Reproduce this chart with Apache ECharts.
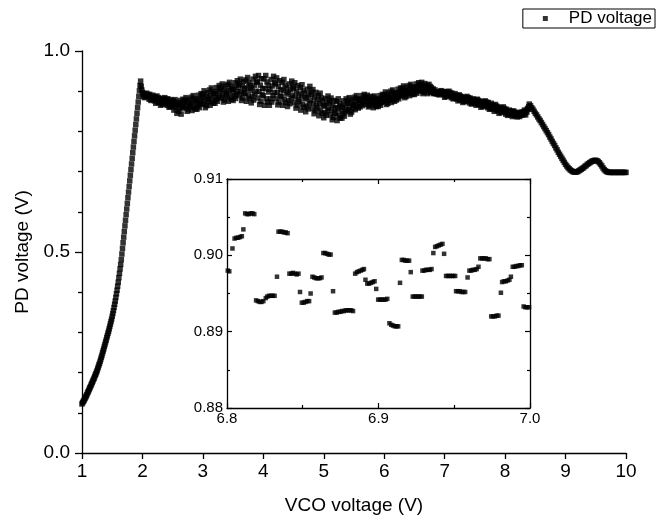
<!DOCTYPE html>
<html>
<head>
<meta charset="utf-8">
<script src="https://cdn.jsdelivr.net/npm/echarts@6/dist/echarts.min.js"></script>
<style>
html,body{margin:0;padding:0;background:#fff;}
#chart{width:657px;height:525px;}
</style>
</head>
<body>
<div id="chart"></div>
<script>
// ---- Data ----
// Main curve: three sampled segments (start x, x step, y values)
const riseX0 = 1.00, riseStep = 0.01;
const riseY = [
.122,.125,.128,.130,.133,.136,.139,.142,.145,.149,
.152,.155,.159,.162,.165,.169,.172,.176,.179,.183,
.186,.190,.194,.197,.201,.205,.210,.214,.219,.223,
.228,.233,.238,.243,.249,.254,.259,.265,.270,.276,
.281,.287,.292,.298,.303,.309,.315,.321,.327,.333,
.340,.347,.354,.362,.370,.378,.387,.396,.405,.415,
.425,.436,.447,.458,.469,.481,.495,.509,.523,.537,
.551,.565,.579,.593,.607,.621,.635,.649,.663,.677,
.691,.705,.719,.733,.747,.761,.775,.789,.803,.817,
.831,.845,.859,.873,.887,.901,.914,.925,.912,.903
];
const bandX0 = 2.00, bandStep = 0.01;
const bandY = [
.897,.892,.886,.894,.884,.891,.887,.895,.888,.892,
.889,.880,.892,.884,.877,.887,.879,.890,.882,.885,
.876,.886,.870,.880,.888,.874,.884,.872,.882,.878,
.865,.876,.869,.882,.867,.878,.871,.884,.873,.880,
.876,.865,.881,.869,.860,.874,.862,.879,.867,.872,
.862,.876,.853,.868,.879,.859,.873,.845,.870,.864,
.850,.867,.857,.877,.843,.870,.860,.880,.863,.873,
.877,.858,.884,.865,.850,.873,.854,.880,.861,.869,
.864,.885,.852,.873,.889,.860,.881,.856,.877,.868,
.855,.877,.864,.890,.859,.881,.868,.894,.872,.885,
.892,.868,.901,.878,.859,.887,.864,.896,.873,.883,
.879,.903,.865,.889,.908,.875,.899,.870,.894,.884,
.870,.895,.880,.909,.875,.900,.885,.914,.889,.904,
.908,.883,.918,.893,.873,.903,.878,.913,.888,.898,
.891,.917,.875,.901,.922,.885,.912,.880,.907,.896,
.877,.904,.888,.921,.882,.910,.893,.926,.899,.915,
.918,.889,.930,.900,.877,.913,.883,.924,.895,.907,
.895,.928,.875,.908,.934,.888,.921,.882,.915,.901,
.871,.908,.886,.930,.878,.915,.893,.937,.900,.923,
.923,.883,.939,.899,.867,.915,.875,.931,.891,.907,
.889,.931,.865,.906,.939,.881,.923,.873,.915,.898,
.865,.905,.881,.929,.873,.913,.889,.937,.897,.921,
.918,.881,.933,.896,.866,.911,.873,.926,.888,.904,
.886,.922,.865,.901,.929,.879,.915,.872,.908,.893,
.862,.897,.876,.918,.869,.904,.883,.925,.890,.911,
.907,.872,.921,.886,.858,.900,.865,.914,.879,.893,
.874,.909,.853,.888,.916,.867,.902,.860,.895,.881,
.849,.884,.863,.905,.856,.891,.870,.912,.877,.898,
.891,.857,.904,.870,.844,.884,.851,.897,.864,.878,
.858,.889,.839,.870,.895,.851,.883,.845,.877,.864,
.834,.864,.846,.882,.840,.870,.852,.888,.858,.876,
.871,.841,.883,.853,.829,.865,.835,.877,.847,.859,
.845,.875,.827,.857,.881,.839,.869,.833,.863,.851,
.833,.860,.844,.876,.838,.865,.849,.881,.854,.870,
.875,.852,.884,.861,.843,.871,.848,.880,.857,.866,
.866,.885,.854,.874,.889,.862,.881,.858,.878,.869,
.861,.878,.868,.889,.864,.882,.871,.892,.875,.885,
.884,.867,.890,.874,.861,.880,.864,.887,.871,.877,
.869,.885,.859,.875,.888,.865,.882,.862,.878,.872,
.862,.879,.869,.889,.865,.882,.872,.892,.875,.885,
.891,.874,.898,.881,.867,.888,.870,.895,.877,.884,
.882,.900,.872,.889,.903,.879,.896,.875,.893,.886,
.878,.895,.885,.905,.881,.898,.888,.908,.891,.901,
.907,.890,.913,.897,.884,.903,.887,.910,.894,.900,
.898,.914,.889,.905,.917,.895,.911,.892,.908,.901,
.892,.908,.898,.918,.895,.911,.902,.921,.905,.915,
.916,.900,.922,.906,.894,.913,.897,.919,.903,.910,
.902,.915,.894,.907,.917,.899,.912,.897,.909,.904,
.898,.9055,.8941,.8948,.9031,.8939,.8971,.8953,.8927,.898,
.8942,.8908,.8993,.8946,.9013,.8973,.8981,.8996,.892,.8986,
.885,.893,.888,.898,.887,.895,.890,.900,.892,.897,
.892,.884,.895,.887,.881,.890,.883,.894,.886,.889,
.881,.889,.876,.884,.891,.879,.888,.878,.886,.883,
.872,.880,.875,.885,.874,.882,.877,.887,.879,.884,
.880,.871,.883,.875,.868,.878,.870,.881,.873,.876,
.870,.878,.865,.873,.880,.868,.877,.867,.875,.872,
.860,.869,.864,.874,.862,.871,.865,.876,.867,.873,
.868,.859,.872,.863,.855,.866,.857,.870,.861,.865,
.856,.865,.850,.860,.867,.854,.863,.852,.861,.858,
.845,.854,.849,.859,.847,.856,.850,.861,.852,.857,
.852,.843,.855,.847,.840,.850,.842,.853,.845,.848,
.842,.850,.837,.845,.851,.840,.848,.839,.846,.843,
.836,.843,.839,.847,.837,.844,.840,.848,.841,.845,
.849,.842,.853,.846,.841,.852,.848,.857,.855,.862
];
const tailX0 = 8.40, tailStep = 0.02;
const tailY = [
.868,
.864,.859,.855,.850,.845,.841,.836,.831,.827,.822,
.817,.812,.807,.802,.797,.792,.786,.781,.775,.770,
.765,.759,.754,.748,.743,.738,.733,.728,.723,.718,
.714,.710,.707,.704,.702,.700,.699,.699,.699,.700,
.702,.704,.706,.708,.710,.713,.715,.718,.720,.722,
.724,.726,.727,.728,.728,.727,.725,.722,.718,.714,
.709,.705,.702,.700,.699,.698,.698,.698,.698,.698,
.698,.698,.698,.698,.698,.698,.698,.698,.698,.698
];

// Inset (zoom of 6.8 - 7.0 V)
const insetX = [
6.8005,6.8015,6.8036,
6.8050,6.8062,6.8074,6.8086,6.8098,6.8108,
6.8120,6.8132,6.8144,6.8156,6.8168,6.8180,
6.8192,6.8204,6.8216,6.8228,6.8240,
6.8256,6.8266,6.8278,6.8290,6.8302,6.8314,6.8330,
6.8340,6.8352,6.8364,6.8376,6.8388,6.8400,
6.8412,6.8424,6.8436,6.8448,6.8460,6.8472,6.8482,
6.8494,6.8506,6.8518,6.8530,6.8542,6.8552,
6.8564,6.8576,6.8588,6.8600,6.8612,6.8624,
6.8636,6.8648,6.8660,6.8672,6.8684,6.8700,
6.8712,6.8724,6.8736,6.8748,6.8760,6.8772,
6.8784,6.8796,6.8808,6.8820,6.8832,
6.8846,6.8858,6.8870,6.8882,6.8894,6.8904,6.8914,
6.8926,6.8938,6.8950,6.8962,6.8974,6.8985,
6.8998,6.9010,6.9022,6.9034,6.9046,6.9058,
6.9072,6.9084,6.9096,6.9108,6.9120,6.9130,6.9142,
6.9154,6.9166,6.9178,6.9190,6.9202,6.9213,
6.9226,6.9238,6.9250,6.9262,6.9274,6.9286,
6.9290,6.9302,6.9314,6.9326,6.9338,6.9350,6.9362,
6.9374,6.9386,6.9398,6.9410,6.9422,6.9433,
6.9446,6.9458,6.9470,6.9482,6.9494,6.9506,
6.9512,6.9524,6.9536,6.9548,6.9560,6.9572,6.9588,
6.9600,6.9612,6.9624,6.9636,6.9648,6.9660,
6.9672,6.9684,6.9696,6.9708,6.9720,6.9732,
6.9744,6.9756,6.9768,6.9780,6.9792,6.9808,
6.9816,6.9828,6.9840,6.9852,6.9864,6.9874,
6.9886,6.9898,6.9910,6.9922,6.9934,6.9946,
6.9958,6.9970,6.9982,6.9994
];
const insetY = [
.8980,.8979,.9009,
.9022,.9023,.9023,.9024,.9025,.9034,
.9055,.9054,.9054,.9055,.9055,.9054,
.8941,.8940,.8939,.8939,.8940,
.8944,.8946,.8947,.8947,.8947,.8947,.8972,
.9031,.9031,.9031,.9030,.9030,.9029,
.8976,.8976,.8977,.8976,.8975,.8976,.8952,
.8938,.8938,.8939,.8940,.8940,.8950,
.8972,.8971,.8970,.8970,.8970,.8971,
.9003,.9003,.9002,.9001,.9001,.8953,
.8925,.8925,.8926,.8926,.8927,.8927,
.8928,.8928,.8928,.8928,.8927,
.8976,.8978,.8979,.8980,.8981,.8982,.8968,
.8963,.8963,.8964,.8965,.8966,.8956,
.8942,.8942,.8942,.8942,.8942,.8943,
.8911,.8909,.8908,.8907,.8907,.8907,.8964,
.8994,.8994,.8993,.8993,.8993,.8978,
.8946,.8946,.8946,.8946,.8946,.8946,
.8980,.8980,.8981,.8981,.8981,.8982,.9003,
.9011,.9012,.9013,.9014,.9015,.9002,
.8973,.8973,.8973,.8973,.8973,.8973,
.8953,.8953,.8953,.8952,.8952,.8952,.8971,
.8980,.8980,.8981,.8981,.8982,.8985,
.8996,.8996,.8996,.8996,.8995,.8995,
.8920,.8920,.8920,.8921,.8921,.8951,
.8965,.8966,.8966,.8967,.8968,.8972,
.8985,.8985,.8986,.8986,.8987,.8987,
.8933,.8932,.8932,.8932
];

// Axis ticks
const mainXTicks = [1,2,3,4,5,6,7,8,9,10];
const mainYTicks = ['0.0','0.5','1.0'];
const insetXTicks = ['6.8','6.9','7.0'];
const insetYTicks = ['0.88','0.89','0.90','0.91'];

// ---- Build ----
function seg(x0, step, ys) {
  return ys.map((y, i) => [+(x0 + i * step).toFixed(4), y]);
}
const mainData = seg(riseX0, riseStep, riseY)
  .concat(seg(bandX0, bandStep, bandY))
  .concat(seg(tailX0, tailStep, tailY));
const insetData = insetX.map((x, i) => [x, insetY[i]]);

const FONT = '"Liberation Sans", Arial, Helvetica, sans-serif';
const axisLine = { show: true, lineStyle: { color: '#000', width: 1.3 } };

const chart = echarts.init(document.getElementById('chart'), null, { renderer: 'canvas' });
chart.setOption({
  animation: false,
  backgroundColor: '#fff',
  textStyle: { fontFamily: FONT, color: '#000' },
  legend: {
    data: ['PD voltage'],
    right: 2, top: 9,
    orient: 'horizontal',
    icon: 'rect',
    itemWidth: 5, itemHeight: 5,
    padding: [1, 3, 1, 20],
    borderColor: '#000', borderWidth: 1, borderRadius: 0,
    textStyle: { fontSize: 17, color: '#000', fontFamily: FONT, padding: [0, 0, 0, 16] }
  },
  grid: [
    { left: 82, right: 31, top: 51, bottom: 72 },
    { left: 227, right: 127, top: 179, bottom: 117 }
  ],
  xAxis: [
    {
      gridIndex: 0, type: 'value', min: 1, max: 10, interval: 1,
      axisLine: axisLine,
      axisTick: { show: true, inside: false, length: 6, lineStyle: { color: '#000', width: 1.3 } },
      axisLabel: { fontSize: 19, color: '#000', margin: 9, fontFamily: FONT,
        formatter: v => { const t = mainXTicks.find(k => Math.abs(k - v) < 1e-6); return t === undefined ? '' : String(t); } },
      splitLine: { show: false },
      name: 'VCO voltage (V)', nameLocation: 'middle', nameGap: 43,
      nameTextStyle: { fontSize: 19, color: '#000', fontFamily: FONT }
    },
    {
      gridIndex: 1, type: 'value', min: 6.8, max: 7.0, interval: 0.1, position: 'bottom',
      axisLine: axisLine,
      axisTick: { show: true, inside: true, length: 5, lineStyle: { color: '#000', width: 1.2 } },
      minorTick: { show: true, splitNumber: 2, length: 3, lineStyle: { color: '#000', width: 1.2 } },
      axisLabel: { fontSize: 15, color: '#000', margin: 3, fontFamily: FONT,
        formatter: v => insetXTicks[Math.round((v - 6.8) / 0.1)] || '' },
      splitLine: { show: false }
    },
    {
      gridIndex: 1, type: 'value', min: 6.8, max: 7.0, interval: 0.1, position: 'top',
      axisLine: axisLine,
      axisTick: { show: true, inside: true, length: 5, lineStyle: { color: '#000', width: 1.2 } },
      minorTick: { show: true, splitNumber: 2, length: 3, lineStyle: { color: '#000', width: 1.2 } },
      axisLabel: { show: false },
      splitLine: { show: false }
    }
  ],
  yAxis: [
    {
      gridIndex: 0, type: 'value', min: 0, max: 1, interval: 0.5,
      axisLine: axisLine,
      axisTick: { show: true, inside: false, length: 7, lineStyle: { color: '#000', width: 1.3 } },
      minorTick: { show: true, splitNumber: 5, length: 4, lineStyle: { color: '#000', width: 1.3 } },
      axisLabel: { fontSize: 19, color: '#000', margin: 12, fontFamily: FONT,
        formatter: v => mainYTicks[Math.round(v / 0.5)] || '' },
      splitLine: { show: false },
      name: 'PD voltage (V)', nameLocation: 'middle', nameGap: 47,
      nameTextStyle: { fontSize: 19, color: '#000', fontFamily: FONT }
    },
    {
      gridIndex: 1, type: 'value', min: 0.88, max: 0.91, interval: 0.01, position: 'left',
      axisLine: axisLine,
      axisTick: { show: true, inside: true, length: 5, lineStyle: { color: '#000', width: 1.2 } },
      minorTick: { show: true, splitNumber: 2, length: 3, lineStyle: { color: '#000', width: 1.2 } },
      axisLabel: { fontSize: 15, color: '#000', margin: 4, fontFamily: FONT,
        formatter: v => insetYTicks[Math.round((v - 0.88) / 0.01)] || '' },
      splitLine: { show: false }
    },
    {
      gridIndex: 1, type: 'value', min: 0.88, max: 0.91, interval: 0.01, position: 'right',
      axisLine: axisLine,
      axisTick: { show: true, inside: true, length: 5, lineStyle: { color: '#000', width: 1.2 } },
      minorTick: { show: true, splitNumber: 2, length: 3, lineStyle: { color: '#000', width: 1.2 } },
      axisLabel: { show: false },
      splitLine: { show: false }
    }
  ],
  series: [
    {
      name: 'PD voltage', type: 'scatter', xAxisIndex: 0, yAxisIndex: 0,
      symbol: 'rect', symbolSize: 5.5, data: mainData,
      itemStyle: { color: '#000' }, silent: true, large: false
    },
    {
      name: 'PD voltage inset', type: 'scatter', xAxisIndex: 1, yAxisIndex: 1,
      symbol: 'rect', symbolSize: 4.5, data: insetData, clip: true,
      itemStyle: { color: '#000' }, silent: true
    }
  ]
});
</script>
</body>
</html>
